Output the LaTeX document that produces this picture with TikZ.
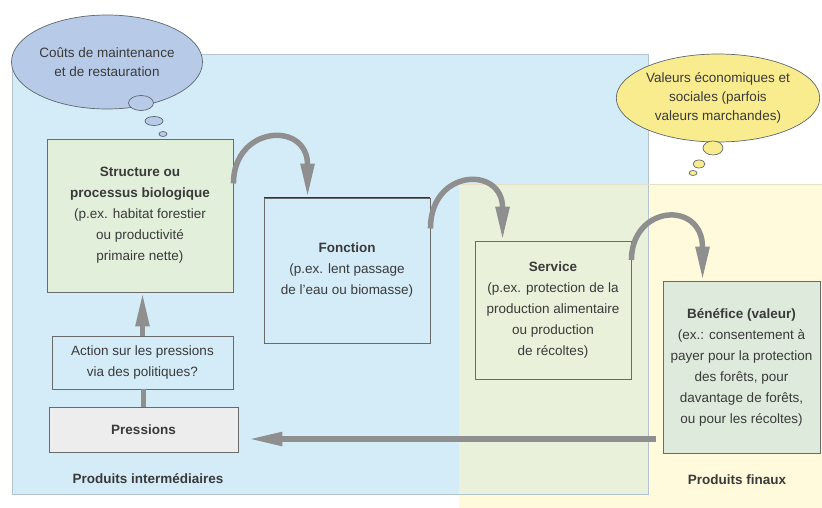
\documentclass[tikz,border=0pt]{standalone}
\usepackage{fontspec}
\setmainfont{Liberation Sans}
\usetikzlibrary{shapes.geometric,arrows.meta}

\definecolor{bluezone}{HTML}{D4ECF8}
\definecolor{yellowzone}{HTML}{FEFADB}
\definecolor{greenzone}{HTML}{E9F1DA}
\definecolor{zoneline}{HTML}{B4C4CC}
\definecolor{structfill}{HTML}{E2EFDA}
\definecolor{benefill}{HTML}{DEEBDC}
\definecolor{pressfill}{HTML}{EDEDED}
\definecolor{boxline}{HTML}{6A6A6A}
\definecolor{textgray}{HTML}{3A3A3A}
\definecolor{arrowgray}{HTML}{8F8F8F}
\definecolor{cloudblue}{HTML}{B7CBE8}
\definecolor{cloudyellow}{HTML}{F9EC8E}
\definecolor{cloudline}{HTML}{5E6670}

\begin{document}
\begin{tikzpicture}[
        x=1pt, y=-1pt, % pixel grid of the figure
        every node/.style={font=\fontsize{13.5}{21}\selectfont, text=textgray, align=center},
        box/.style={draw=boxline, line width=0.9pt, inner sep=0pt},
        thought/.style={ellipse, draw=cloudline, line width=0.7pt, inner sep=0pt, font=\fontsize{13.5}{19}\selectfont},
        flow/.style={draw=arrowgray, line width=5.5pt, -{Triangle[length=34pt,width=13pt]}},
    ]
        \useasboundingbox (0,0) rectangle (822,508);

        % Zones
        \fill[bluezone] (12,54) rectangle (648,494);
        \fill[yellowzone] (459,184) rectangle (822,508);
        \fill[greenzone] (459,184) rectangle (648,494);
        \draw[zoneline, line width=0.8pt] (12,54) rectangle (648,494);
        \draw[yellowzone!80!gray, line width=0.6pt] (459,184) -- (822,184);

        % Define nodes
        \node[box, fill=structfill, minimum width=186, minimum height=153] (struct) at (140,215.5)
            {\textbf{Structure ou}\\\textbf{processus biologique}\\(p.ex. habitat forestier\\ou productivité\\primaire nette)};
        \node[box, minimum width=166, minimum height=145] (fonct) at (347,270.5)
            {\textbf{Fonction}\\(p.ex. lent passage\\de l'eau ou biomasse)};
        \draw[black!80, line width=1pt] (fonct.north west) -- (fonct.north east);
        \node[box, minimum width=156, minimum height=138] (serv) at (553,310)
            {\textbf{Service}\\(p.ex. protection de la\\production alimentaire\\ou production\\de récoltes)};
        \node[box, fill=benefill, minimum width=157, minimum height=172] (benef) at (741.5,367)
            {\textbf{Bénéfice (valeur)}\\(ex.: consentement à\\payer pour la protection\\des forêts, pour\\davantage de forêts,\\ou pour les récoltes)};
        \node[box, minimum width=181, minimum height=53] (action) at (142.5,362.5)
            {Action sur les pressions\\via des politiques?};
        \node[box, fill=pressfill, minimum width=189, minimum height=45] (press) at (143.5,429.5)
            {\textbf{Pressions}};

        \node (interm) at (148,479) {\textbf{Produits intermédiaires}};
        \node (finaux) at (737,480) {\textbf{Produits finaux}};

        % Thought clouds
        \node[thought, fill=cloudblue, minimum width=179, minimum height=94] (costs) at (107,62)
            {Coûts de maintenance\\et de restauration};
        \node[thought, fill=cloudblue, minimum width=25, minimum height=15] (costsa) at (141,103) {};
        \node[thought, fill=cloudblue, minimum width=18, minimum height=9] (costsb) at (154,121) {};
        \node[thought, fill=cloudblue, minimum width=8, minimum height=5] (costsc) at (163,134) {};

        \node[thought, fill=cloudyellow, minimum width=190, minimum height=88] (values) at (718,98)
            {Valeurs économiques et\\sociales (parfois\\valeurs marchandes)};
        \node[thought, fill=cloudyellow, minimum width=20, minimum height=14] (valuesa) at (713,148) {};
        \node[thought, fill=cloudyellow, minimum width=12, minimum height=8] (valuesb) at (699,164) {};
        \node[thought, fill=cloudyellow, minimum width=8, minimum height=5] (valuesc) at (693,173) {};

        % Define arrows
        \draw[draw=arrowgray, line width=5.5pt] (press.north) -- (press.north |- action.south);
        \draw[flow] (action.north) -- (action.north |- struct.south);
        \draw[flow] ([yshift=32pt]struct.east) .. controls +(0,-58) and +(0,-77) .. ([xshift=44pt]fonct.north west);
        \draw[flow] ([yshift=42pt]fonct.east) .. controls +(0,-60) and +(0,-75) .. ([xshift=28pt]serv.north west);
        \draw[flow] ([yshift=50pt]serv.east) .. controls +(0,-55) and +(0,-81) .. ([xshift=40pt]benef.north west);
        \draw[flow, shorten <=7pt, shorten >=10pt] ([yshift=-9.5pt]press.east -| benef.west) -- ([yshift=-9.5pt]press.east);
    \end{tikzpicture}
\end{document}
